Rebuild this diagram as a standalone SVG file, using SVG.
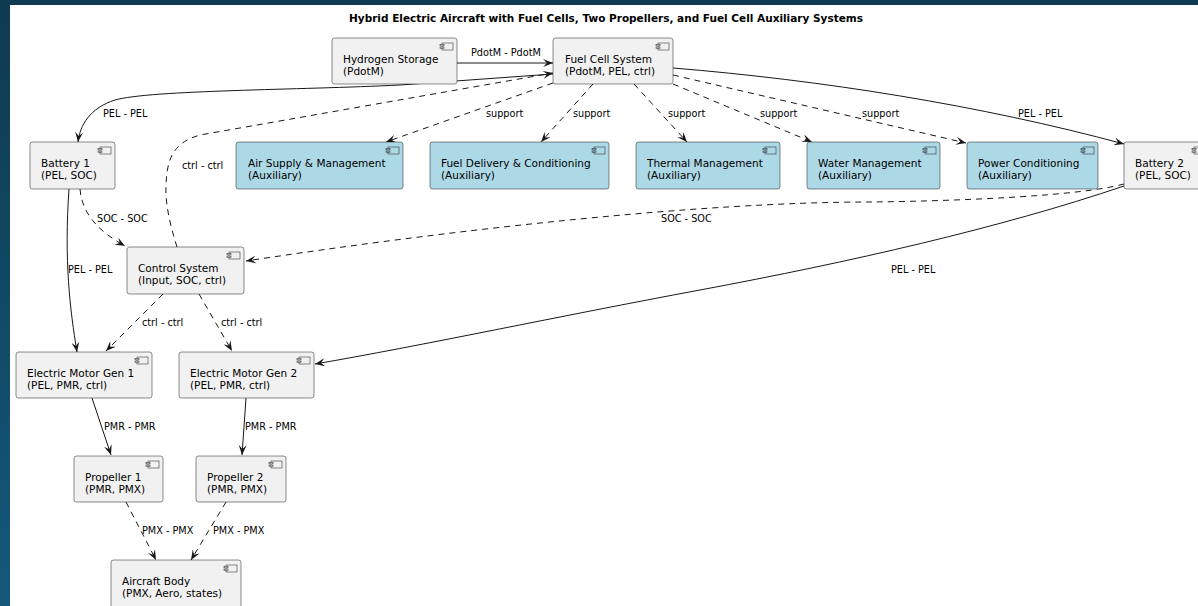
<svg xmlns="http://www.w3.org/2000/svg" width="1198" height="606" viewBox="0 0 1198 606">
  <defs>
    <linearGradient id="frame" x1="0" y1="0" x2="0" y2="1">
      <stop offset="0" stop-color="#0f3a51"/>
      <stop offset="1" stop-color="#15587a"/>
    </linearGradient>
    <marker id="arrow" viewBox="0 0 10 8" refX="10" refY="4" markerWidth="10" markerHeight="8" markerUnits="userSpaceOnUse" orient="auto">
      <path d="M0,0 L10,4 L0,8 L4,4 Z" fill="#181818"/>
    </marker>
    <!-- component glyph drawn in the top-right corner of every box -->
    <g id="compIcon">
      <rect x="0" y="0" width="11" height="7" fill="none" stroke="#181818" stroke-width="0.5"/>
      <rect x="-2" y="1.3" width="4" height="1.6" fill="#f1f1f1" stroke="#181818" stroke-width="0.5"/>
      <rect x="-2" y="4.1" width="4" height="1.6" fill="#f1f1f1" stroke="#181818" stroke-width="0.5"/>
    </g>
    <g id="compIconAux">
      <rect x="0" y="0" width="11" height="7" fill="none" stroke="#181818" stroke-width="0.5"/>
      <rect x="-2" y="1.3" width="4" height="1.6" fill="#add8e6" stroke="#181818" stroke-width="0.5"/>
      <rect x="-2" y="4.1" width="4" height="1.6" fill="#add8e6" stroke="#181818" stroke-width="0.5"/>
    </g>
  </defs>
  <style>
    .box { fill: #f1f1f1; stroke: #181818; stroke-width: 0.5; }
    .aux { fill: #add8e6; stroke: #181818; stroke-width: 0.5; }
    .name { font-family: "DejaVu Sans", sans-serif; font-size: 10.5px; fill: #000; }
    .lbl { font-family: "DejaVu Sans", sans-serif; font-size: 9.7px; fill: #000; }
    .title { font-family: "DejaVu Sans", sans-serif; font-size: 10.5px; font-weight: bold; fill: #000; }
    .solid { fill: none; stroke: #181818; stroke-width: 1; marker-end: url(#arrow); }
    .dash { fill: none; stroke: #181818; stroke-width: 1; stroke-dasharray: 6 5; marker-end: url(#arrow); }
  </style>

  <!-- page frame -->
  <rect x="0" y="0" width="1198" height="606" fill="url(#frame)"/>
  <rect x="10" y="5" width="1188" height="601" fill="#ffffff"/>

  <text class="title" x="606" y="22" text-anchor="middle">Hybrid Electric Aircraft with Fuel Cells, Two Propellers, and Fuel Cell Auxiliary Systems</text>

  <!-- connectors -->
  <g id="connectors">
    <path class="solid" d="M457,63 L553,63"/>
    <text class="lbl" x="471" y="56">PdotM - PdotM</text>

    <path class="solid" d="M553,74 L400,85 C300,90 150,90 115,100 C90,108 80,125 78,142"/>
    <text class="lbl" x="103" y="117">PEL - PEL</text>

    <path class="dash" d="M177,247 C171,228 165,205 166,185 C167,160 172,143 200,135 L553,73"/>
    <text class="lbl" x="182" y="169">ctrl - ctrl</text>

    <path class="solid" d="M673,68 C820,80 980,105 1124,144"/>
    <text class="lbl" x="1018" y="117">PEL - PEL</text>

    <path class="dash" d="M553,83 L386,142"/>
    <text class="lbl" x="486" y="117">support</text>
    <path class="dash" d="M593,84 L541,142"/>
    <text class="lbl" x="573" y="117">support</text>
    <path class="dash" d="M634,84 L687,142"/>
    <text class="lbl" x="668" y="117">support</text>
    <path class="dash" d="M673,84 L812,142"/>
    <text class="lbl" x="760" y="117">support</text>
    <path class="dash" d="M673,75 L966,143"/>
    <text class="lbl" x="862" y="117">support</text>

    <path class="dash" d="M1124,184 C1080,196 960,201 870,202 C700,202 450,230 246,261"/>
    <text class="lbl" x="661" y="222">SOC - SOC</text>

    <path class="solid" d="M1124,186 C1000,228 850,262 700,290 C560,316 420,346 315,364"/>
    <text class="lbl" x="891" y="273">PEL - PEL</text>

    <path class="dash" d="M80,189 C82,215 100,232 125,246"/>
    <text class="lbl" x="97" y="222">SOC - SOC</text>

    <path class="solid" d="M69,189 C64,260 70,310 77,352"/>
    <text class="lbl" x="68" y="273">PEL - PEL</text>

    <path class="dash" d="M163,294 L106,351"/>
    <text class="lbl" x="142" y="326">ctrl - ctrl</text>
    <path class="dash" d="M199,294 L232,351"/>
    <text class="lbl" x="221" y="326">ctrl - ctrl</text>

    <path class="solid" d="M92,398 L111,455"/>
    <text class="lbl" x="104" y="430">PMR - PMR</text>
    <path class="solid" d="M246,398 L242,455"/>
    <text class="lbl" x="245" y="430">PMR - PMR</text>

    <path class="dash" d="M126,502 L156,560"/>
    <text class="lbl" x="142" y="534">PMX - PMX</text>
    <path class="dash" d="M226,502 L191,560"/>
    <text class="lbl" x="213" y="534">PMX - PMX</text>
  </g>

  <!-- components -->
  <g id="hydrogen-storage">
    <rect class="box" x="332" y="38" width="125" height="46" rx="2.5"/>
    <use href="#compIcon" x="442" y="43"/>
    <text class="name" x="343" y="62.5">Hydrogen Storage</text>
    <text class="name" x="343" y="74.5">(PdotM)</text>
  </g>
  <g id="fuel-cell-system">
    <rect class="box" x="553" y="38" width="120" height="46" rx="2.5"/>
    <use href="#compIcon" x="658" y="43"/>
    <text class="name" x="565" y="62.5">Fuel Cell System</text>
    <text class="name" x="565" y="74.5">(PdotM, PEL, ctrl)</text>
  </g>
  <g id="battery-1">
    <rect class="box" x="30" y="142" width="85" height="47" rx="2.5"/>
    <use href="#compIcon" x="100" y="147"/>
    <text class="name" x="41" y="167">Battery 1</text>
    <text class="name" x="41" y="179">(PEL, SOC)</text>
  </g>
  <g id="air-supply">
    <rect class="aux" x="236" y="142" width="167" height="47" rx="2.5"/>
    <use href="#compIconAux" x="388" y="147"/>
    <text class="name" x="248" y="167">Air Supply &amp; Management</text>
    <text class="name" x="248" y="179">(Auxiliary)</text>
  </g>
  <g id="fuel-delivery">
    <rect class="aux" x="430" y="142" width="179" height="47" rx="2.5"/>
    <use href="#compIconAux" x="594" y="147"/>
    <text class="name" x="441" y="167">Fuel Delivery &amp; Conditioning</text>
    <text class="name" x="441" y="179">(Auxiliary)</text>
  </g>
  <g id="thermal-management">
    <rect class="aux" x="636" y="142" width="144" height="47" rx="2.5"/>
    <use href="#compIconAux" x="765" y="147"/>
    <text class="name" x="647" y="167">Thermal Management</text>
    <text class="name" x="647" y="179">(Auxiliary)</text>
  </g>
  <g id="water-management">
    <rect class="aux" x="807" y="142" width="133" height="47" rx="2.5"/>
    <use href="#compIconAux" x="925" y="147"/>
    <text class="name" x="818" y="167">Water Management</text>
    <text class="name" x="818" y="179">(Auxiliary)</text>
  </g>
  <g id="power-conditioning">
    <rect class="aux" x="967" y="142" width="131" height="47" rx="2.5"/>
    <use href="#compIconAux" x="1083" y="147"/>
    <text class="name" x="978" y="167">Power Conditioning</text>
    <text class="name" x="978" y="179">(Auxiliary)</text>
  </g>
  <g id="battery-2">
    <rect class="box" x="1124" y="142" width="85" height="47" rx="2.5"/>
    <use href="#compIcon" x="1194" y="147"/>
    <text class="name" x="1135" y="167">Battery 2</text>
    <text class="name" x="1135" y="179">(PEL, SOC)</text>
  </g>
  <g id="control-system">
    <rect class="box" x="127" y="247" width="117" height="47" rx="2.5"/>
    <use href="#compIcon" x="229" y="252"/>
    <text class="name" x="138" y="271.5">Control System</text>
    <text class="name" x="138" y="283.5">(Input, SOC, ctrl)</text>
  </g>
  <g id="motor-gen-1">
    <rect class="box" x="16" y="352" width="136" height="46" rx="2.5"/>
    <use href="#compIcon" x="137" y="357"/>
    <text class="name" x="27" y="376.5">Electric Motor Gen 1</text>
    <text class="name" x="27" y="388.5">(PEL, PMR, ctrl)</text>
  </g>
  <g id="motor-gen-2">
    <rect class="box" x="179" y="352" width="135" height="46" rx="2.5"/>
    <use href="#compIcon" x="299" y="357"/>
    <text class="name" x="190" y="376.5">Electric Motor Gen 2</text>
    <text class="name" x="190" y="388.5">(PEL, PMR, ctrl)</text>
  </g>
  <g id="propeller-1">
    <rect class="box" x="74" y="456" width="89" height="46" rx="2.5"/>
    <use href="#compIcon" x="148" y="461"/>
    <text class="name" x="85" y="480.5">Propeller 1</text>
    <text class="name" x="85" y="492.5">(PMR, PMX)</text>
  </g>
  <g id="propeller-2">
    <rect class="box" x="196" y="456" width="90" height="46" rx="2.5"/>
    <use href="#compIcon" x="271" y="461"/>
    <text class="name" x="207" y="480.5">Propeller 2</text>
    <text class="name" x="207" y="492.5">(PMR, PMX)</text>
  </g>
  <g id="aircraft-body">
    <rect class="box" x="111" y="560" width="130" height="50" rx="2.5"/>
    <use href="#compIcon" x="226" y="565"/>
    <text class="name" x="122" y="584.5">Aircraft Body</text>
    <text class="name" x="122" y="596.5">(PMX, Aero, states)</text>
  </g>
</svg>
